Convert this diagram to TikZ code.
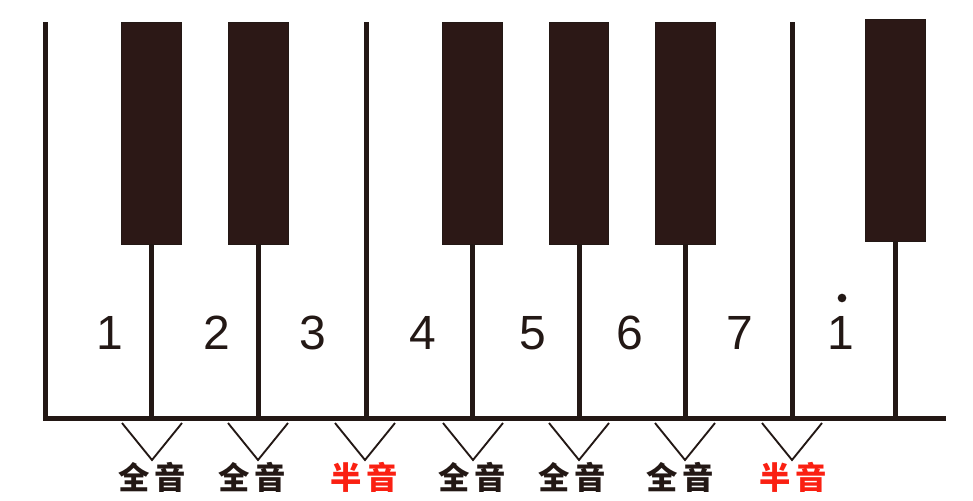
\documentclass[tikz,border=0pt]{standalone}
\usepackage{fontspec}
\setmainfont{Liberation Sans}
\newfontfamily\cjk{Noto Sans CJK SC}
\usepackage{tikz}
\usetikzlibrary{positioning}
\definecolor{keyink}{RGB}{35,24,21}
\definecolor{keyfill}{RGB}{44,24,22}
\definecolor{halfred}{RGB}{250,32,18}
\def\vmark#1{\draw[vmark] (#1) ++(-30,-37) -- ++(30,37) -- ++(30,-37);}

\begin{document}
\begin{tikzpicture}[x=0.75pt, y=-0.75pt,
    blackkey/.style={draw=keyink, fill=keyfill, line width=0.6pt, minimum width=44.5pt, minimum height=167pt, inner sep=0pt},
    wire/.style={draw=keyink, line width=3.75pt},
    vmark/.style={draw=keyink, line width=1.4pt},
    note/.style={font=\fontsize{36}{36}\selectfont, text=keyink, inner sep=0pt},
    interval/.style={font=\cjk\bfseries\fontsize{23.5}{23.5}\selectfont, text=keyink, inner sep=0pt}]
    \useasboundingbox (0,0) rectangle (973,500);

    % white keys
    \coordinate (top1) at (45,22);
    \coordinate (corner) at (45,418);
    \coordinate (end) at (946,418);
    \coordinate (top4) at (366,22);
    \coordinate (top8) at (792,22);
    \draw[wire] (top1) -- (corner) -- (end);
    \draw[wire] (top4) -- (top4 |- corner);
    \draw[wire] (top8) -- (top8 |- corner);

    % black keys
    \node[blackkey] (cs) at (151.5,133.5) {};
    \node[blackkey] (ds) at (258.5,133.5) {};
    \node[blackkey] (fs) at (472.5,133.5) {};
    \node[blackkey] (gs) at (579,133.5) {};
    \node[blackkey] (as) at (685.5,133.5) {};
    \node[blackkey] (cs2) at (895.5,130.5) {};
    \draw[wire] (cs.south) -- (cs.south |- corner);
    \draw[wire] (ds.south) -- (ds.south |- corner);
    \draw[wire] (fs.south) -- (fs.south |- corner);
    \draw[wire] (gs.south) -- (gs.south |- corner);
    \draw[wire] (as.south) -- (as.south |- corner);
    \draw[wire] (cs2.south) -- (cs2.south |- corner);

    % numbered notes
    \node[note] (do) at (110,333) {1};
    \node[note] (re) at (217,333) {2};
    \node[note] (mi) at (313,333) {3};
    \node[note] (fa) at (423,333) {4};
    \node[note] (sol) at (533,333) {5};
    \node[note] (la) at (630,333) {6};
    \node[note] (si) at (740,333) {7};
    \node[note] (hido) at (841,333) {1};
    \node[circle, fill=keyink, inner sep=0pt, minimum size=6.5pt] (hidot) at (842,298) {};

    % steps between notes
    \coordinate (v1) at (152,460);
    \coordinate (v2) at (258,460);
    \coordinate (v3) at (365,460);
    \coordinate (v4) at (473,460);
    \coordinate (v5) at (579,460);
    \coordinate (v6) at (685,460);
    \coordinate (v7) at (792,460);
    \vmark{v1} \vmark{v2} \vmark{v3} \vmark{v4} \vmark{v5} \vmark{v6} \vmark{v7}
    \node[interval] (w1) at (152,477) {全\hspace{4pt}音};
    \node[interval] (w2) at (252,477) {全\hspace{4pt}音};
    \node[interval, text=halfred] (h1) at (364,477) {半\hspace{4pt}音};
    \node[interval] (w3) at (472,477) {全\hspace{4pt}音};
    \node[interval] (w4) at (572,477) {全\hspace{4pt}音};
    \node[interval] (w5) at (680,477) {全\hspace{4pt}音};
    \node[interval, text=halfred] (h2) at (793,477) {半\hspace{4pt}音};
\end{tikzpicture}
\end{document}
